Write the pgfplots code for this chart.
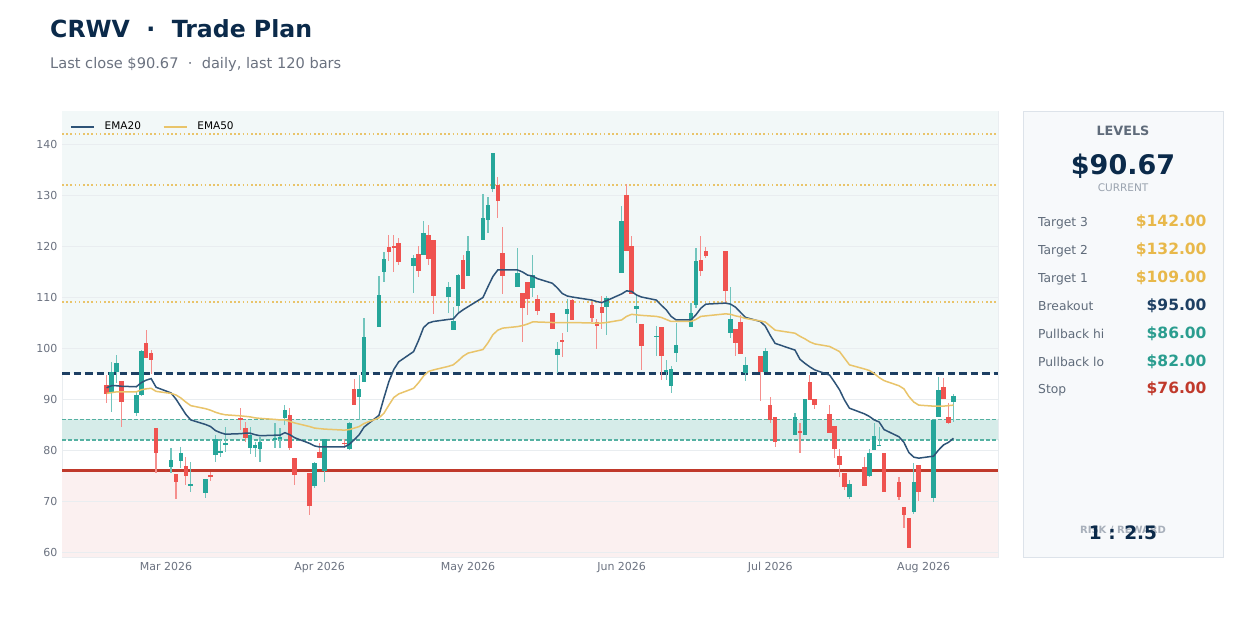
\documentclass[border=0pt]{standalone}
\usepackage{pgfplots}
\pgfplotsset{compat=1.18}
\usepackage{pgfplotstable}
\usepackage{fontspec}
\setmainfont{DejaVu Sans}
\definecolor{upc}{HTML}{26A69A}
\definecolor{dnc}{HTML}{EF5350}
\definecolor{emablue}{HTML}{2E5377}
\definecolor{gold}{HTML}{E9C46A}
\definecolor{goldtxt}{HTML}{E8B84A}
\definecolor{navy}{HTML}{0B2A4A}
\definecolor{brk}{HTML}{1D3F63}
\definecolor{pbl}{HTML}{55B1A2}
\definecolor{tealtxt}{HTML}{2A9D8F}
\definecolor{stopc}{HTML}{C0392B}
\definecolor{bandc}{HTML}{D6ECE9}
\definecolor{tintc}{HTML}{F2F8F8}
\definecolor{pinkc}{HTML}{FBF0F0}
\definecolor{gridc}{HTML}{E9EDF0}
\definecolor{ticktxt}{HTML}{6B7280}
\definecolor{lbltxt}{HTML}{5F6B7A}
\definecolor{paneltxt}{HTML}{9AA3AF}
\definecolor{rrtxt}{HTML}{A8B0BB}
\definecolor{panelbg}{HTML}{F7F9FB}
\definecolor{panelbd}{HTML}{DDE3EA}
\newcommand\fs[1]{\fontsize{#1}{#1}\selectfont}

% up candles: day offset from 1 Mar 2026, open high low close
\pgfplotstableread{
d o h l c
-11 91.1 97.3 87.5 95.35
-10 95.35 98.6 93.1 97.1
-6 87.3 91.4 86.7 90.8
-5 90.8 99.6 90.6 99.4
1 76.7 80.4 75.5 78.0
3 77.8 80.6 76.5 79.4
5 73.0 77.6 71.8 73.3
8 71.6 74.3 70.6 74.3
10 79.0 83.0 77.6 82.2
11 79.6 82.0 78.6 79.8
12 80.9 84.5 79.6 81.4
17 80.4 84.5 79.2 82.9
18 80.4 81.6 78.7 81.0
19 80.2 82.5 77.7 81.6
22 82.0 85.2 80.4 82.4
23 82.2 84.3 80.3 82.5
24 86.2 88.8 84.9 87.8
30 72.9 77.6 72.5 77.5
32 75.9 82.2 73.7 82.2
37 80.2 85.5 80.0 85.3
39 90.4 94.7 85.9 92.0
40 93.3 105.9 93.3 102.2
43 104.1 114.1 104.1 110.4
44 114.9 118.8 112.9 117.5
50 116.1 118.2 110.8 117.6
52 118.2 125.0 118.2 122.6
57 110.0 113.0 106.9 112.0
58 103.5 108.0 103.5 105.3
59 108.3 114.5 107.0 114.3
61 114.1 122.0 114.1 119.0
64 121.2 130.1 121.2 125.4
65 125.1 129.6 122.5 128.0
66 131.2 138.2 130.6 138.2
71 112.0 119.6 112.0 114.7
74 111.8 118.2 110.0 114.3
79 98.6 101.2 95.1 99.8
81 106.7 109.6 103.1 107.6
89 108.0 110.2 102.5 109.8
92 114.7 127.8 114.7 124.9
95 107.6 110.6 104.9 108.2
99 102.2 104.3 98.4 102.4
101 95.3 97.6 93.7 95.6
102 92.5 96.5 91.1 95.8
103 99.0 104.9 97.3 100.6
106 104.1 108.8 104.1 106.9
107 108.4 119.6 107.8 117.1
114 102.9 112.0 102.0 105.7
117 95.1 98.2 93.5 96.7
121 95.3 100.0 95.3 99.4
127 82.9 87.3 82.9 86.5
129 82.9 90.0 82.9 90.0
138 70.7 74.1 70.3 73.3
142 74.9 80.2 74.7 79.4
143 80.0 85.3 80.0 82.7
144 80.8 84.5 80.8 81.0
151 67.8 77.5 67.5 73.7
155 70.6 85.9 69.8 85.9
156 86.5 94.3 86.5 91.8
159 89.4 91.0 85.5 90.67
}\upt

% down candles
\pgfplotstableread{
d o h l c
-12 92.75 94.7 89.2 91.0
-9 93.5 93.5 84.6 89.35
-4 101.0 103.5 97.98 97.98
-3 98.96 99.6 95.0 97.6
-2 84.25 84.25 75.5 79.5
2 75.3 75.3 70.4 73.7
4 76.9 78.6 73.1 74.9
9 75.1 75.7 73.9 74.9
15 86.3 88.2 83.9 86.0
16 84.3 85.5 81.6 82.4
25 86.9 88.2 80.0 80.3
26 78.4 78.4 73.1 75.1
29 75.5 75.5 67.3 69.0
31 79.6 81.4 78.4 78.4
36 81.4 82.2 80.4 81.2
38 92.0 93.9 88.8 88.8
45 119.8 122.2 117.0 118.8
46 120.0 122.2 115.0 119.7
47 120.5 121.5 116.3 116.9
51 118.4 120.0 113.9 115.1
53 122.2 124.1 116.3 117.5
54 121.2 121.2 106.7 110.2
60 117.3 118.2 111.6 111.6
67 132.0 133.5 125.5 128.8
68 118.6 123.7 110.6 114.1
72 110.8 110.8 101.2 107.8
73 112.9 112.9 106.5 109.6
75 109.6 110.4 106.5 107.3
78 106.9 106.9 103.7 103.7
80 101.6 102.9 98.2 101.2
82 109.4 109.6 105.5 105.5
86 108.4 109.0 105.1 105.9
87 105.1 105.7 99.8 104.3
88 108.0 110.2 103.7 106.9
93 130.0 132.2 119.0 119.0
94 120.0 122.0 110.6 110.6
96 104.7 104.7 95.7 100.4
100 104.1 104.1 93.7 98.4
108 117.3 122.0 114.1 115.1
109 119.0 119.8 117.6 118.0
113 119.0 119.0 108.8 111.2
115 103.7 103.7 98.4 101.0
116 105.1 106.5 98.8 98.8
120 98.4 98.4 89.6 95.3
122 88.8 90.4 85.3 85.9
123 86.5 86.5 80.6 81.6
128 83.6 85.3 79.4 83.4
130 93.3 94.7 89.8 89.8
131 90.0 90.0 88.0 88.8
134 87.1 88.8 83.3 83.3
135 84.7 84.7 78.4 80.2
136 78.8 80.2 74.7 77.1
137 75.5 75.5 72.2 72.7
141 76.7 78.6 72.9 72.9
145 79.4 79.4 71.8 71.8
148 73.7 74.7 70.2 70.8
149 68.8 68.8 64.7 67.3
150 66.7 66.7 60.8 60.8
152 77.1 77.1 70.0 71.8
157 92.4 94.1 90.0 90.0
158 86.5 89.2 85.1 85.3
}\dnt

\pgfplotstableread{
d v
-12 92.2
-11 92.6
-10 92.6
-9 92.5
-6 92.4
-5 93.2
-4 93.7
-3 94.0
-2 92.3
1 91.2
2 90.0
3 88.5
4 87.0
5 85.9
8 85.0
9 84.6
10 83.8
11 83.4
12 83.1
15 83.2
16 83.3
17 83.3
18 83.0
19 82.8
22 82.9
23 82.9
24 83.4
25 83.0
26 82.4
29 81.3
30 80.8
31 80.6
32 80.6
36 80.6
37 81.1
38 82.0
39 83.0
40 84.5
43 86.8
44 90.2
45 93.4
46 95.8
47 97.3
50 99.3
51 101.5
52 104.0
53 104.9
54 105.2
57 105.6
58 105.7
59 106.8
60 107.5
61 108.1
64 109.9
65 112.0
66 114.0
67 115.3
68 115.3
71 115.3
72 114.9
73 114.3
74 114.1
75 113.6
78 112.7
79 111.8
80 110.7
81 110.2
82 110.0
86 109.4
87 109.1
88 108.9
89 109.3
92 110.6
93 111.2
94 111.1
95 110.4
96 110.0
99 109.4
100 108.4
101 107.5
102 106.2
103 105.5
106 105.5
107 106.5
108 107.8
109 108.6
113 108.8
114 108.6
115 108.0
116 107.0
117 106.0
120 105.2
121 104.3
122 102.5
123 100.9
127 99.6
128 97.8
129 97.0
130 96.3
131 95.7
134 94.7
135 93.3
136 91.8
137 89.8
138 88.2
141 87.1
142 86.6
143 85.9
144 85.5
145 84.0
148 82.6
149 81.5
150 79.5
151 78.6
152 78.4
155 78.8
156 80.0
157 81.0
158 81.5
159 82.3
}\emaA

\pgfplotstableread{
d v
-12 91.1
-10 91.4
-9 91.4
-6 91.4
-5 91.8
-4 92.0
-3 92.1
-2 91.5
1 91.1
2 90.8
3 90.2
4 89.4
5 88.7
8 88.1
9 87.8
10 87.4
11 87.1
12 86.9
15 86.7
16 86.6
17 86.5
18 86.3
19 86.2
22 86.0
23 85.9
24 85.9
25 85.6
26 85.3
29 84.6
30 84.3
31 84.2
32 84.1
36 83.9
37 84.0
38 84.3
39 84.6
40 85.2
43 86.3
44 87.2
45 88.8
46 90.3
47 91.0
50 92.1
51 93.2
52 94.5
53 95.4
54 95.7
57 96.4
58 96.7
59 97.5
60 98.4
61 99.0
64 99.7
65 101.0
66 102.6
67 103.5
68 103.9
71 104.2
72 104.4
73 104.7
74 105.1
75 105.1
78 105.0
82 105.0
86 104.9
88 104.9
89 105.0
92 105.5
93 106.2
94 106.6
95 106.5
96 106.4
99 106.2
100 106.0
101 105.6
102 105.2
103 105.2
106 105.2
107 105.6
108 106.2
109 106.3
113 106.7
114 106.6
115 106.3
116 106.1
117 105.8
120 105.3
121 105.1
122 104.3
123 103.5
127 102.9
128 102.3
129 101.8
130 101.2
131 100.8
134 100.3
135 99.8
136 99.3
137 98.0
138 96.7
141 95.9
142 95.6
143 95.0
144 94.2
145 93.6
148 92.6
149 92.0
150 90.5
151 89.4
152 88.8
155 88.6
157 88.6
158 88.7
159 88.8
}\emaB

\pgfplotsset{candle/.style 2 args={forget plot, draw=none, mark=none,
  error bars/.cd, y dir=both, y explicit, error mark=none,
  error bar style={draw=#1, solid, line width=#2}}}

\begin{document}
\begin{tikzpicture}
\fill[white] (0pt,0pt) rectangle (1248pt,-619pt);

% titles
\node[anchor=base west, inner sep=0pt, text=navy] at (50pt,-37.3pt) {\fs{23.6}\bfseries CRWV\ \ ·\ \ Trade Plan};
\node[anchor=base west, inner sep=0pt, text=ticktxt] at (50pt,-68.3pt) {\fs{14.6}Last close \$90.67\ \ ·\ \ daily, last 120 bars};

\begin{axis}[
  at={(62pt,-557pt)}, anchor=south west,
  scale only axis, width=936pt, height=446pt,
  xmin=-21, xmax=168, ymin=59.02, ymax=146.47,
  axis line style={draw=gridc, line width=0.8pt},
  major tick length=0pt,
  ytick={60,70,...,140},
  xtick={0,31,61,92,122,153},
  xticklabels={Mar 2026,Apr 2026,May 2026,Jun 2026,Jul 2026,Aug 2026},
  tick label style={font=\fs{11}, text=ticktxt},
  /pgf/number format/assume math mode=true,
  yticklabel style={xshift=-1pt},
  xticklabel style={yshift=-2pt},
  legend style={at={(0,1)}, anchor=north west, xshift=5pt, yshift=-7pt,
    draw=none, fill=none, font=\fs{10.5}, legend columns=2,
    /tikz/every odd column/.append style={column sep=8pt},
    /tikz/every even column/.append style={column sep=20pt}},
  legend cell align=left,
  legend image code/.code={\draw[#1] (0pt,0pt) -- (23pt,0pt);},
]
% zones
\addplot[forget plot, draw=none, fill=tintc] coordinates {(-21,95) (168,95) (168,146.47) (-21,146.47) (-21,95)};
\addplot[forget plot, draw=none, fill=bandc] coordinates {(-21,82) (168,82) (168,86) (-21,86) (-21,82)};
\addplot[forget plot, draw=none, fill=pinkc] coordinates {(-21,59.02) (168,59.02) (168,76) (-21,76) (-21,59.02)};
% grid
\pgfplotsinvokeforeach{60,70,80,90,100,110,120,130,140}{
  \addplot[forget plot, draw=gridc, line width=0.7pt] coordinates {(-21,#1) (168,#1)};
}
% levels
\addplot[forget plot, draw=gold, line width=1.6pt, dash pattern=on 1.6pt off 2.6pt] coordinates {(-21,142) (168,142)};
\addplot[forget plot, draw=gold, line width=1.6pt, dash pattern=on 1.6pt off 2.6pt] coordinates {(-21,132) (168,132)};
\addplot[forget plot, draw=gold, line width=1.6pt, dash pattern=on 1.6pt off 2.6pt] coordinates {(-21,109) (168,109)};
\addplot[forget plot, draw=pbl, line width=1.4pt, dash pattern=on 4pt off 2pt] coordinates {(-21,86) (168,86)};
\addplot[forget plot, draw=pbl, line width=1.4pt, dash pattern=on 4pt off 2pt] coordinates {(-21,82) (168,82)};
\addplot[forget plot, draw=brk, line width=2.3pt, dash pattern=on 7.5pt off 4pt] coordinates {(-21,95) (168,95)};
\addplot[forget plot, draw=stopc, line width=2.2pt] coordinates {(-21,76) (168,76)};

% wicks
\addplot[candle={upc!65!white}{1.2pt}]
  table[x=d, y expr={(\thisrow{h}+\thisrow{l})/2}, y error expr={(\thisrow{h}-\thisrow{l})/2}]{\upt};
\addplot[candle={dnc!65!white}{1.2pt}]
  table[x=d, y expr={(\thisrow{h}+\thisrow{l})/2}, y error expr={(\thisrow{h}-\thisrow{l})/2}]{\dnt};
% bodies
\addplot[candle={upc}{4.6pt}]
  table[x=d, y expr={(\thisrow{o}+\thisrow{c})/2}, y error expr={max(abs(\thisrow{c}-\thisrow{o})/2,0.13)}]{\upt};
\addplot[candle={dnc}{4.6pt}]
  table[x=d, y expr={(\thisrow{o}+\thisrow{c})/2}, y error expr={max(abs(\thisrow{c}-\thisrow{o})/2,0.13)}]{\dnt};

% EMAs
\addplot[draw=emablue, line width=1.5pt, mark=none] table[x=d, y=v]{\emaA};
\addlegendentry{EMA20}
\addplot[draw=gold, line width=1.5pt, mark=none] table[x=d, y=v]{\emaB};
\addlegendentry{EMA50}
\end{axis}

% side panel
\draw[fill=panelbg, draw=panelbd, line width=0.8pt] (1023pt,-111pt) rectangle (1223pt,-557pt);
\node[anchor=base, inner sep=0pt, text=lbltxt] at (1123pt,-135.6pt) {\fs{12.8}\bfseries LEVELS};
\node[anchor=base, inner sep=0pt, text=navy] at (1123pt,-174.3pt) {\fs{27}\bfseries \$90.67};
\node[anchor=base, inner sep=0pt, text=paneltxt] at (1123pt,-191.5pt) {\fs{10.5}CURRENT};
\foreach \yy/\lab/\val/\col in {226.8/Target 3/142.00/goldtxt, 254.6/Target 2/132.00/goldtxt, 282.4/Target 1/109.00/goldtxt, 310.3/Breakout/95.00/brk, 338.2/Pullback hi/86.00/tealtxt, 366.1/Pullback lo/82.00/tealtxt, 393.9/Stop/76.00/stopc}{
  \node[anchor=base west, inner sep=0pt, text=lbltxt] at (1038pt,-\yy pt) {\fs{12.3}\lab};
  \node[anchor=base east, inner sep=0pt, text=\col] at (1206.7pt,-\yy pt) {\fs{15.5}\bfseries \$\val};
}
\node[anchor=base, inner sep=0pt, text=rrtxt] at (1123pt,-533pt) {\fs{10}\bfseries RISK / REWARD};
\node[anchor=base, inner sep=0pt, text=navy] at (1123pt,-539.3pt) {\fs{18.5}\bfseries 1 : 2.5};
\end{tikzpicture}
\end{document}
